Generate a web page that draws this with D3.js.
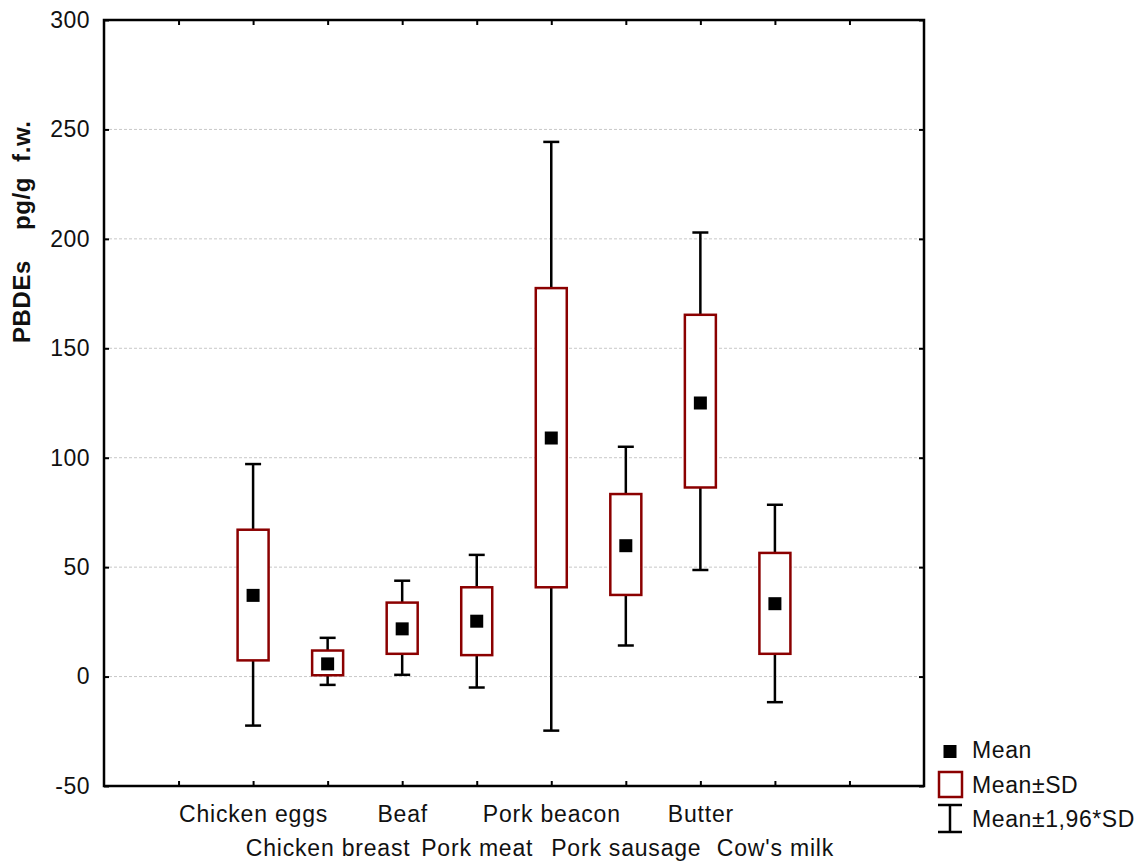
<!DOCTYPE html>
<html>
<head>
<meta charset="utf-8">
<script src="https://cdn.jsdelivr.net/npm/d3@7"></script>
<style>
  html, body { margin: 0; padding: 0; background: #fff; }
  svg { display: block; font-family: "Liberation Sans", Arial, sans-serif; }
</style>
</head>
<body>
<svg id="chart" width="1148" height="863"></svg>
<script>
// ---- data ----
const categories = ["Chicken eggs", "Chicken breast", "Beaf", "Pork meat", "Pork beacon", "Pork sausage", "Butter", "Cow's milk"];
const meanValues = [37.1, 5.8, 21.8, 25.3, 109.0, 59.8, 125.0, 33.3];
const sdLow      = [7.4, 0.6, 10.4, 9.8, 40.8, 37.3, 86.4, 10.4];
const sdHigh     = [67.1, 11.9, 33.8, 40.8, 177.5, 83.4, 165.3, 56.5];
const ciLow      = [-22.4, -3.8, 0.8, -5.0, -24.7, 14.2, 48.7, -11.7];
const ciHigh     = [97.1, 17.7, 43.8, 55.6, 244.3, 105.0, 202.9, 78.5];
const yTicks     = [-50, 0, 50, 100, 150, 200, 250, 300];
const xTickPositions = [0, 1, 2, 3, 4, 5, 6, 7, 8, 9];
const yTitleParts = ["PBDEs", "pg/g", "f.w."];
const legendLabels = ["Mean", "Mean\u00B1SD", "Mean\u00B11,96*SD"];

const rows = categories.map((c, i) => ({
  cat: c, pos: i + 1, mean: meanValues[i],
  sdLo: sdLow[i], sdHi: sdHigh[i], ciLo: ciLow[i], ciHi: ciHigh[i]
}));

const svg = d3.select("#chart");
const L = 104, R = 924, T = 20, B = 786;
const x = d3.scaleLinear().domain([-1, 10]).range([L, R]);
const y = d3.scaleLinear().domain([-50, 300]).range([B, T]);

const boxColor = "#8b0000";
const fontSize = 23;

// grid lines
svg.append("g").selectAll("line")
  .data(yTicks.filter(v => v > -50 && v < 300))
  .join("line")
  .attr("x1", L).attr("x2", R)
  .attr("y1", d => y(d)).attr("y2", d => y(d))
  .attr("stroke", "#c8c8c8").attr("stroke-width", 1)
  .attr("stroke-dasharray", "3,2");

// y axis (left)
const yAxis = svg.append("g").attr("transform", `translate(${L},0)`)
  .call(d3.axisLeft(y).tickValues(yTicks).tickSizeInner(-5).tickSizeOuter(0).tickPadding(14)
    .tickFormat(d => String(d)));
yAxis.select(".domain").remove();
yAxis.selectAll(".tick line").attr("stroke", "#000").attr("stroke-width", 2);
yAxis.selectAll(".tick text")
  .attr("font-size", fontSize).attr("fill", "#111")
  .attr("font-family", "'Liberation Sans', Arial, sans-serif")
  .attr("letter-spacing", "0.5px");

// y axis right ticks
const yAxisR = svg.append("g").attr("transform", `translate(${R},0)`)
  .call(d3.axisRight(y).tickValues(yTicks).tickSizeInner(-5).tickSizeOuter(0).tickFormat(""));
yAxisR.select(".domain").remove();
yAxisR.selectAll(".tick line").attr("stroke", "#000").attr("stroke-width", 2);

// x axis (bottom)
const xAxis = svg.append("g").attr("transform", `translate(0,${B})`)
  .call(d3.axisBottom(x).tickValues(xTickPositions).tickSizeInner(-5).tickSizeOuter(0)
    .tickFormat(i => categories[i - 1] || ""));
xAxis.select(".domain").remove();
xAxis.selectAll(".tick line").attr("stroke", "#000").attr("stroke-width", 2);
xAxis.selectAll(".tick text")
  .attr("font-size", fontSize).attr("fill", "#111")
  .attr("font-family", "'Liberation Sans', Arial, sans-serif")
  .attr("letter-spacing", "0.8px")
  .attr("dy", null)
  .attr("y", i => (i % 2 === 1 ? 36 : 70));

// x axis top ticks
const xAxisT = svg.append("g").attr("transform", `translate(0,${T})`)
  .call(d3.axisTop(x).tickValues(xTickPositions).tickSizeInner(-5).tickSizeOuter(0).tickFormat(""));
xAxisT.select(".domain").remove();
xAxisT.selectAll(".tick line").attr("stroke", "#000").attr("stroke-width", 2);

// frame
svg.append("rect")
  .attr("x", L).attr("y", T).attr("width", R - L).attr("height", B - T)
  .attr("fill", "none").attr("stroke", "#000").attr("stroke-width", 2.5);

// y title (rotated, starts at bottom)
const yt = svg.append("text")
  .attr("transform", `translate(30,343) rotate(-90)`)
  .attr("text-anchor", "start")
  .attr("font-size", 24).attr("font-weight", "bold").attr("fill", "#111")
  .attr("letter-spacing", "0.6px");
yt.selectAll("tspan").data(yTitleParts).join("tspan")
  .attr("dx", (d, i) => [0, 30, 15][i])
  .text(d => d);

// boxes and whiskers
const boxW = 31, capW = 16, markerS = 13;
const g = svg.append("g");
const grp = g.selectAll("g.item").data(rows).join("g").attr("class", "item");

grp.append("line")
  .attr("x1", d => x(d.pos)).attr("x2", d => x(d.pos))
  .attr("y1", d => y(d.ciHi)).attr("y2", d => y(d.sdHi))
  .attr("stroke", "#000").attr("stroke-width", 2.5);
grp.append("line")
  .attr("x1", d => x(d.pos)).attr("x2", d => x(d.pos))
  .attr("y1", d => y(d.sdLo)).attr("y2", d => y(d.ciLo))
  .attr("stroke", "#000").attr("stroke-width", 2.5);
grp.append("line")
  .attr("x1", d => x(d.pos) - capW / 2).attr("x2", d => x(d.pos) + capW / 2)
  .attr("y1", d => y(d.ciHi)).attr("y2", d => y(d.ciHi))
  .attr("stroke", "#000").attr("stroke-width", 2.5);
grp.append("line")
  .attr("x1", d => x(d.pos) - capW / 2).attr("x2", d => x(d.pos) + capW / 2)
  .attr("y1", d => y(d.ciLo)).attr("y2", d => y(d.ciLo))
  .attr("stroke", "#000").attr("stroke-width", 2.5);
grp.append("rect")
  .attr("x", d => x(d.pos) - boxW / 2).attr("width", boxW)
  .attr("y", d => y(d.sdHi)).attr("height", d => y(d.sdLo) - y(d.sdHi))
  .attr("fill", "#fff").attr("stroke", boxColor).attr("stroke-width", 2.5);
grp.append("rect")
  .attr("x", d => x(d.pos) - markerS / 2).attr("y", d => y(d.mean) - markerS / 2)
  .attr("width", markerS).attr("height", markerS).attr("fill", "#000");

// legend
const lg = svg.append("g");
const lx = 950;
lg.append("rect").attr("x", lx - 6.5).attr("y", 745).attr("width", 13).attr("height", 13).attr("fill", "#000");
lg.append("rect").attr("x", lx - 11).attr("y", 772).attr("width", 23).attr("height", 25)
  .attr("fill", "#fff").attr("stroke", boxColor).attr("stroke-width", 2.5);
lg.append("line").attr("x1", lx).attr("x2", lx).attr("y1", 805).attr("y2", 832).attr("stroke", "#000").attr("stroke-width", 2.5);
lg.append("line").attr("x1", lx - 12).attr("x2", lx + 12).attr("y1", 805).attr("y2", 805).attr("stroke", "#000").attr("stroke-width", 2.5);
lg.append("line").attr("x1", lx - 12).attr("x2", lx + 12).attr("y1", 832).attr("y2", 832).attr("stroke", "#000").attr("stroke-width", 2.5);
lg.selectAll("text").data(legendLabels).join("text")
  .attr("x", 972).attr("y", (d, i) => [758, 793, 827][i])
  .attr("font-size", fontSize).attr("fill", "#111").attr("letter-spacing", "0.6px")
  .text(d => d);
</script>
</body>
</html>
